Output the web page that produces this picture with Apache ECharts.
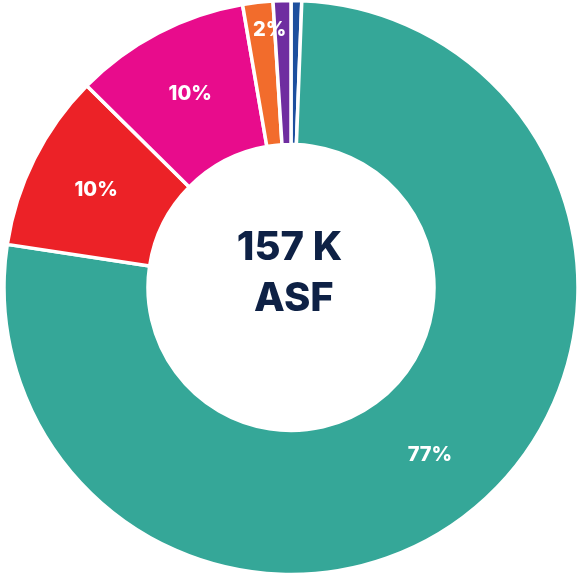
<!DOCTYPE html>
<html>
<head>
<meta charset="utf-8">
<style>
  html, body { margin: 0; padding: 0; background: #ffffff; }
  #chart { width: 579px; height: 576px; }
</style>
<script src="https://cdn.jsdelivr.net/npm/echarts@6/dist/echarts.min.js"></script>
</head>
<body>
<div id="chart"></div>
<script>
// Share of assignable square footage, clockwise from 12 o'clock
const categories = ['Navy', 'Teal', 'Red', 'Magenta', 'Orange', 'Purple'];
const shares = [0.6, 76.8, 10.0, 9.9, 1.7, 1.0];
const colors = ['#1d4f9e', '#35a798', '#ec2227', '#e80c8c', '#f26c2c', '#6f2da0'];
const totalLabel = ['157 K', ' ASF'];

const chart = echarts.init(document.getElementById('chart'), null, { renderer: 'canvas' });

const data = categories.map((name, i) => ({
  name,
  value: shares[i],
  itemStyle: { color: colors[i] },
  label: shares[i] < 1.5 ? { show: false } : (shares[i] < 5 ? { offset: [4, -41] } : {})
}));

const labelFont = 'Inter, "Open Sans", sans-serif';

chart.setOption({
  animation: false,
  series: [{
    type: 'pie',
    center: [291, 287.5],
    radius: [143, 287],
    startAngle: 90,
    clockwise: true,
    avoidLabelOverlap: false,
    itemStyle: { borderColor: '#ffffff', borderWidth: 3.5 },
    label: {
      show: true,
      position: 'inside',
      color: '#ffffff',
      fontFamily: labelFont,
      fontWeight: 800,
      fontSize: 20,
      formatter: p => Math.round(p.percent) + '%'
    },
    labelLine: { show: false },
    emphasis: { disabled: true },
    data
  }],
  graphic: [
    {
      type: 'text',
      left: 'center',
      top: 228,
      style: {
        text: totalLabel[0],
        fill: '#0e2145',
        font: '800 40px ' + labelFont,
        textAlign: 'center'
      }
    },
    {
      type: 'text',
      left: 'center',
      top: 279,
      style: {
        text: totalLabel[1],
        fill: '#0e2145',
        font: '800 40px ' + labelFont,
        textAlign: 'center'
      }
    }
  ]
});
</script>
</body>
</html>
